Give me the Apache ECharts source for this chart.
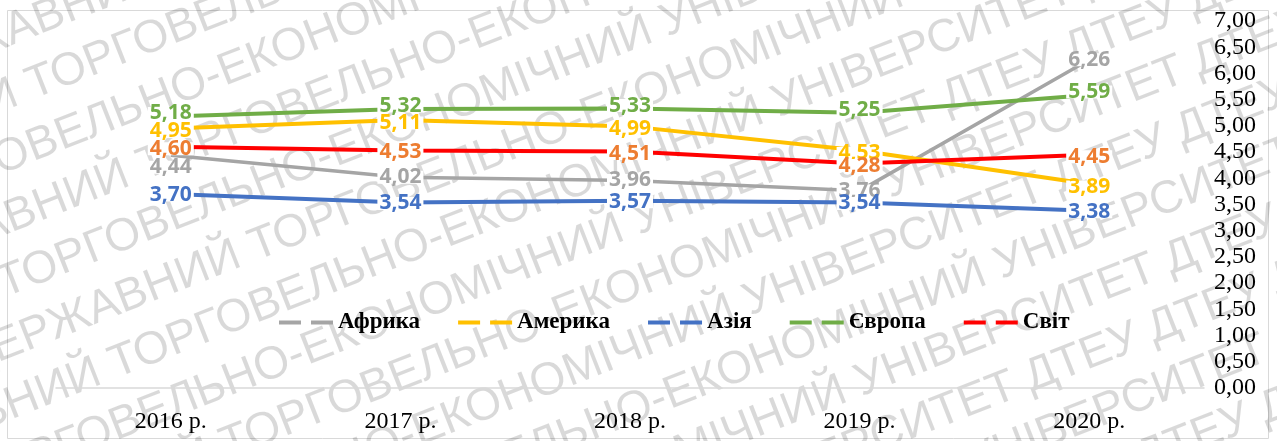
<!DOCTYPE html>
<html>
<head>
<meta charset="utf-8">
<script src="https://cdn.jsdelivr.net/npm/echarts@6/dist/echarts.min.js"></script>
<style>
html,body{margin:0;padding:0;background:#fff;}
#chart{width:1277px;height:441px;}
</style>
</head>
<body>
<div id="chart"></div>
<script>
const categories = ['2016 р.', '2017 р.', '2018 р.', '2019 р.', '2020 р.'];
const seriesNames = ['Африка', 'Америка', 'Азія', 'Європа', 'Світ'];
const africa  = [4.44, 4.02, 3.96, 3.76, 6.26];
const america = [4.95, 5.11, 4.99, 4.53, 3.89];
const asia    = [3.70, 3.54, 3.57, 3.54, 3.38];
const europe  = [5.18, 5.32, 5.33, 5.25, 5.59];
const world   = [4.60, 4.53, 4.51, 4.28, 4.45];
const yTicks = { min: 0, max: 7, step: 0.5 };
const watermarkPhrase = 'ДТЕУ ДЕРЖАВНИЙ ТОРГОВЕЛЬНО-ЕКОНОМІЧНИЙ УНІВЕРСИТЕТ ДТЕУ ';

const lineColors  = ['#A5A5A5', '#FFC000', '#4472C4', '#70AD47', '#FF0000'];
const labelColors = ['#A5A5A5', '#FFC000', '#4472C4', '#70AD47', '#ED7D31'];
const labelShift  = [0, 3, 1, -3, 2];
const seriesZ     = [2, 3, 2, 2, 4];
const dataSets = [africa, america, asia, europe, world];

const fmt = v => v.toFixed(2).replace('.', ',');
const serif = '"Liberation Serif", "Times New Roman", serif';

const series = dataSets.map((d, i) => ({
  name: seriesNames[i],
  type: 'line',
  z: seriesZ[i],
  data: d.map((v, j) => (i === 0 && j === 0) ? { value: v, label: { offset: [0, 12] } } : v),
  color: lineColors[i],
  symbol: 'circle',
  symbolSize: 1,
  showSymbol: true,
  itemStyle: { color: 'rgba(0,0,0,0)' },
  lineStyle: { width: i === 0 ? 3.5 : 4, color: lineColors[i] },
  label: {
    show: true,
    position: 'inside',
    offset: [0, labelShift[i]],
    formatter: p => fmt(p.value),
    color: labelColors[i],
    fontFamily: 'Noto Sans',
    fontWeight: 'bold',
    fontSize: 21,
    lineHeight: 13,
    backgroundColor: '#fff',
    padding: [0, 2]
  },
  emphasis: { disabled: true },
  animation: false
}));

// watermark (decorative diagonal text)
const wmChildren = [];
for (let k = 0; k < 16; k++) {
  const off = ((k * 173) % 420);
  wmChildren.push({
    type: 'text',
    x: -off,
    y: k * 58,
    silent: true,
    style: {
      text: watermarkPhrase + watermarkPhrase,
      fontSize: 46,
      fontFamily: 'Liberation Sans',
      fill: 'rgba(0,0,0,0.15)'
    }
  });
}
const graphics = [
  {
    type: 'rect',
    shape: { x: 7.5, y: 10.5, width: 1261, height: 428 },
    style: { fill: 'none', stroke: '#d9d9d9', lineWidth: 1 },
    silent: true,
    z: 0
  },
  {
    type: 'group',
    x: -250,
    y: 110,
    rotation: 21.5 * Math.PI / 180,
    silent: true,
    z: 100,
    children: wmChildren
  }
];

const chart = echarts.init(document.getElementById('chart'));
chart.setOption({
  animation: false,
  backgroundColor: '#fff',
  grid: { left: 56, right: 73, top: 21, bottom: 53 },
  legend: {
    data: seriesNames.map((n, i) => ({ name: n, itemStyle: { color: lineColors[i] } })),
    left: 274,
    top: 306,
    itemWidth: 54,
    itemHeight: 4,
    itemGap: 38,
    icon: 'path://M0,0H22V4H0Z M32,0H54V4H32Z',
    textStyle: { fontFamily: serif, fontWeight: 'bold', fontSize: 23, color: '#000' }
  },
  xAxis: {
    type: 'category',
    data: categories,
    axisLine: { lineStyle: { color: '#d9d9d9', width: 1.5 } },
    axisTick: { show: false },
    axisLabel: { fontFamily: serif, fontSize: 24, color: '#000', margin: 22 }
  },
  yAxis: {
    type: 'value',
    position: 'right',
    min: yTicks.min,
    max: yTicks.max,
    interval: yTicks.step,
    splitLine: { show: false },
    axisLine: { show: false },
    axisTick: { show: false },
    axisLabel: { fontFamily: serif, fontSize: 24, color: '#000', margin: 10, formatter: v => fmt(v) }
  },
  series: series,
  graphic: graphics
});
</script>
</body>
</html>
